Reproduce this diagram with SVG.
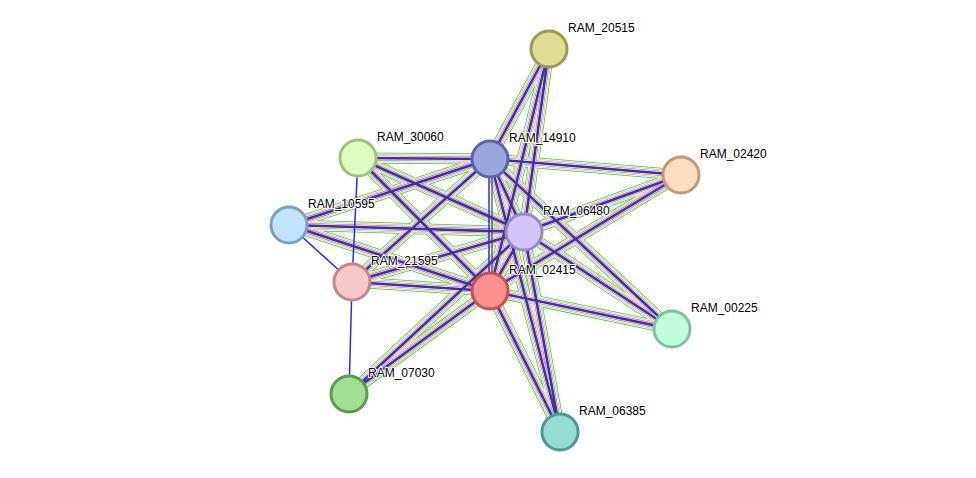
<svg xmlns="http://www.w3.org/2000/svg" xmlns:xlink="http://www.w3.org/1999/xlink" width="976" height="478" viewBox="0 0 976 478">
<style>
.n circle{stroke-width:3}
text{font-family:"Liberation Sans",Arial,sans-serif;font-size:12px;fill:#000;paint-order:stroke;stroke:#fff;stroke-width:2px}
#E line{fill:none}
</style>
<defs>
<g id="E">
<line x1="549" y1="49" x2="490" y2="159"/><line x1="549" y1="49" x2="524" y2="232"/><line x1="549" y1="49" x2="490" y2="291"/>
<line x1="490" y1="159" x2="358" y2="158"/><line x1="490" y1="159" x2="681" y2="175"/><line x1="490" y1="159" x2="289" y2="225"/><line x1="490" y1="159" x2="524" y2="232"/><line x1="490" y1="159" x2="352" y2="282"/><line x1="490" y1="159" x2="672" y2="329"/><line x1="490" y1="159" x2="560" y2="432"/>
<line x1="524" y1="232" x2="358" y2="158"/><line x1="524" y1="232" x2="681" y2="175"/><line x1="524" y1="232" x2="289" y2="225"/><line x1="524" y1="232" x2="352" y2="282"/><line x1="524" y1="232" x2="490" y2="291"/><line x1="524" y1="232" x2="672" y2="329"/><line x1="524" y1="232" x2="560" y2="432"/><line x1="524" y1="232" x2="349" y2="394"/>
<line x1="490" y1="291" x2="358" y2="158"/><line x1="490" y1="291" x2="681" y2="175"/><line x1="490" y1="291" x2="289" y2="225"/><line x1="490" y1="291" x2="352" y2="282"/><line x1="490" y1="291" x2="672" y2="329"/><line x1="490" y1="291" x2="560" y2="432"/><line x1="490" y1="291" x2="349" y2="394"/>
</g>
</defs>
<g id="connectors">
<use xlink:href="#E" stroke="#3cc83c" stroke-width="11"/>
<use xlink:href="#E" stroke="#fff" stroke-width="9.5"/>
<use xlink:href="#E" stroke="#c8d84a" stroke-width="8"/>
<use xlink:href="#E" stroke="#fff" stroke-width="6.5"/>
<use xlink:href="#E" stroke="#d040d0" stroke-width="5"/>
<use xlink:href="#E" stroke="#fff" stroke-width="3.8"/>
<use xlink:href="#E" stroke="#2a2aee" stroke-width="2.6"/>
<use xlink:href="#E" stroke="#444" stroke-width="1.2"/>
<line x1="289" y1="225" x2="352" y2="282" stroke="#2a2aee" stroke-width="1.5"/>
<line x1="358" y1="158" x2="352" y2="282" stroke="#2a2aee" stroke-width="1.5"/>
<line x1="352" y1="282" x2="349" y2="394" stroke="#2a2aee" stroke-width="1.5"/>
<line x1="489" y1="159" x2="489" y2="291" stroke="#2a2aee" stroke-width="1.5"/>
<line x1="492" y1="159" x2="492" y2="291" stroke="#444" stroke-width="1.2"/>
</g>
<g id="RAM_20515" class="n"><circle cx="549" cy="49" r="18" fill="#e0dc94" stroke="#9a9a50"/><text x="568" y="32">RAM_20515</text></g>
<g id="RAM_14910" class="n"><circle cx="490" cy="159" r="18" fill="#9da5dd" stroke="#5a64a8"/><text x="509" y="142">RAM_14910</text></g>
<g id="RAM_30060" class="n"><circle cx="358" cy="158" r="18" fill="#ddfcc0" stroke="#a0c080"/><text x="377" y="141">RAM_30060</text></g>
<g id="RAM_02420" class="n"><circle cx="681" cy="175" r="18" fill="#fcdcc0" stroke="#c09a78"/><text x="700" y="158">RAM_02420</text></g>
<g id="RAM_10595" class="n"><circle cx="289" cy="225" r="18" fill="#c0e4fc" stroke="#7aa2c0"/><text x="308" y="208">RAM_10595</text></g>
<g id="RAM_06480" class="n"><circle cx="524" cy="232" r="18" fill="#d4c4fc" stroke="#9a88c8"/><text x="543" y="215">RAM_06480</text></g>
<g id="RAM_21595" class="n"><circle cx="352" cy="282" r="18" fill="#f8c8c8" stroke="#c08888"/><text x="371" y="265">RAM_21595</text></g>
<g id="RAM_02415" class="n"><circle cx="490" cy="291" r="18" fill="#fc9090" stroke="#c85050"/><text x="509" y="274">RAM_02415</text></g>
<g id="RAM_00225" class="n"><circle cx="672" cy="329" r="18" fill="#c0fcdc" stroke="#80c0a0"/><text x="691" y="312">RAM_00225</text></g>
<g id="RAM_07030" class="n"><circle cx="349" cy="394" r="18" fill="#9ce090" stroke="#5a9c50"/><text x="368" y="377">RAM_07030</text></g>
<g id="RAM_06385" class="n"><circle cx="560" cy="432" r="18" fill="#94dcd4" stroke="#4a9a90"/><text x="579" y="415">RAM_06385</text></g>
</svg>
